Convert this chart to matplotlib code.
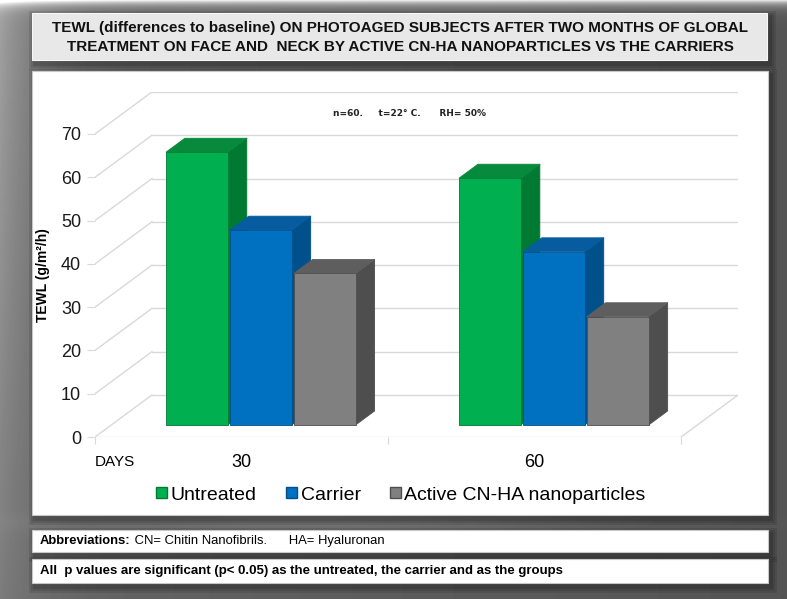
"""
TEWL bar chart (pseudo-3D columns) on a slide-style panel
"""

import matplotlib.pyplot as plt
from matplotlib.patches import Polygon, Rectangle
import numpy as np

# data
days = ['30', '60']
series = ['Untreated', 'Carrier', 'Active CN-HA nanoparticles']
untreated = [63, 57]
carrier = [45, 40]
active = [35, 25]
y_ticks = [0, 10, 20, 30, 40, 50, 60, 70]

front_colors = ['#00b050', '#0070c0', '#808080']
side_colors = ['#007a32', '#00508c', '#4e4e4e']
top_colors = ['#088a3c', '#065c9e', '#5e5e5e']

W, H = 787, 599
fig = plt.figure(figsize=(W / 100, H / 100), dpi=100)

# slide background, pixel coordinates
bg = fig.add_axes([0, 0, 1, 1])
bg.set_xlim(0, W)
bg.set_ylim(H, 0)
bg.axis('off')

yy, xx = np.mgrid[0:H, 0:W]
shade = 0.33 + 0.24 * np.exp(-xx / 45.0) * (1 - 0.6 * yy / H) + 0.06 * (1 - xx / W)
shade += 0.08 * np.exp(-((yy - 522) / 10.0) ** 2) * np.exp(-((xx - 330) / 250.0) ** 2)
shade += 0.55 * np.exp(-yy / 5.0)
shade = np.clip(shade, 0, 1)
bg.imshow(shade, cmap='gray', vmin=0, vmax=1, extent=(0, W, H, 0), aspect='auto', zorder=0)


def panel(x0, y0, x1, y1, face, edge='#c8c8c8'):
    # soft shadow then the box itself
    for k, a in enumerate([0.10, 0.10, 0.12]):
        pad = 6 - 2 * k
        bg.add_patch(Rectangle((x0 - pad + 3, y0 - pad + 4), x1 - x0 + 2 * pad, y1 - y0 + 2 * pad,
                               facecolor='black', edgecolor='none', alpha=a, zorder=1))
    bg.add_patch(Rectangle((x0, y0), x1 - x0, y1 - y0, facecolor=face, edgecolor=edge,
                           linewidth=0.8, zorder=2))


panel(32, 13, 767, 60, '#e8e8e8', '#f7f7f7')
panel(32, 71, 768, 515, 'white')
panel(32, 530, 768, 552, 'white')
panel(32, 559, 768, 583, 'white')

font = 'Liberation Sans'
bg.text(400, 28, 'TEWL (differences to baseline) ON PHOTOAGED SUBJECTS AFTER TWO MONTHS OF GLOBAL',
        ha='center', va='center', fontsize=11, fontweight='bold', family=font, color='#111111', zorder=3)
bg.text(400, 47, 'TREATMENT ON FACE AND  NECK BY ACTIVE CN-HA NANOPARTICLES VS THE CARRIERS',
        ha='center', va='center', fontsize=11, fontweight='bold', family=font, color='#111111', zorder=3)

abbr = bg.text(40, 541, 'Abbreviations:', ha='left', va='center', fontsize=9.4, fontweight='bold',
               family=font, zorder=3)
bg.annotate(' CN= Chitin Nanofibrils.      HA= Hyaluronan', xy=(1, 0.5), xycoords=abbr,
            ha='left', va='center', fontsize=9.4, family=font, zorder=3)
bg.text(40, 571, 'All  p values are significant (p< 0.05) as the untreated, the carrier and as the groups',
        ha='left', va='center', fontsize=9.5, fontweight='bold', family=font, zorder=3)

bg.text(42.5, 275, 'TEWL (g/m²/h)', rotation=90, ha='center', va='center', fontsize=10,
        fontweight='bold', family=font, zorder=3)
bg.text(333, 113, 'n=60.     t=22° C.      RH= 50%', ha='left', va='center', fontsize=6.5,
        fontweight='bold', family='DejaVu Sans', color='#222222', zorder=3)

# chart axes: front plane in data units, depth as an oblique offset
DX = 57 / 293.5          # depth shift in category units
DY = 42 / 4.329          # depth shift in value units
x_left, x_right, y_zero, y_top = 95, 738, 437, 92
ax = fig.add_axes([x_left / W, (H - y_zero) / H, (x_right - x_left) / W, (y_zero - y_top) / H])
ax.set_xlim(0, 2 + DX)
ax.set_ylim(0, 70 + DY)
ax.patch.set_alpha(0)
for s in ax.spines.values():
    s.set_visible(False)

grid = '#d9d9d9'
for v in y_ticks:
    ax.plot([DX, 2 + DX], [v + DY, v + DY], color=grid, lw=1, zorder=1)
    ax.plot([0, DX], [v, v + DY], color=grid, lw=1, zorder=1)
ax.plot([0, 2], [0, 0], color=grid, lw=1, zorder=1)
ax.plot([2, 2 + DX], [0, DY], color=grid, lw=1, zorder=1)

ax.set_yticks(y_ticks)
ax.set_yticklabels([str(v) for v in y_ticks], fontsize=13, family=font, color='#1a1a1a')
ax.tick_params(axis='y', length=6, color=grid, pad=4)
ax.set_xticks([0, 1, 2])
ax.set_xticklabels([])
ax.tick_params(axis='x', length=5, color=grid)

for i, d in enumerate(days):
    ax.text(i + 0.5, -5.8, d, ha='center', va='center', fontsize=13, family=font, clip_on=False)
ax.text(0, -5.8, 'DAYS', ha='left', va='center', fontsize=11, family=font, clip_on=False)

# columns
bw, gap = 62 / 293.5, 2 / 293.5
f0, f1 = 0.29, 0.62
ddx, ddy = (f1 - f0) * DX, (f1 - f0) * DY
values = [untreated, carrier, active]
for i in range(len(days)):
    start = i + 0.51 - (3 * bw + 2 * gap) / 2
    for j, vals in enumerate(values):
        v = vals[i]
        x0 = start + j * (bw + gap) + f0 * DX
        x1 = x0 + bw
        y0 = f0 * DY
        y1 = y0 + v
        side = Polygon([(x1, y0), (x1 + ddx, y0 + ddy), (x1 + ddx, y1 + ddy), (x1, y1)],
                       closed=True, facecolor=side_colors[j], edgecolor=side_colors[j],
                       lw=0.6, joinstyle='round', zorder=3)
        top = Polygon([(x0, y1), (x1, y1), (x1 + ddx, y1 + ddy), (x0 + ddx, y1 + ddy)],
                      closed=True, facecolor=top_colors[j], edgecolor=top_colors[j],
                      lw=0.6, joinstyle='round', zorder=3)
        front = Rectangle((x0, y0), bw, v, facecolor=front_colors[j], edgecolor=side_colors[j],
                          lw=0.6, joinstyle='round', zorder=4)
        for p in (side, top, front):
            ax.add_patch(p)

handles = [Rectangle((0, 0), 1, 1, facecolor=front_colors[j], edgecolor=side_colors[j], lw=1)
           for j in range(len(series))]
fig.legend(handles, series, loc='center', bbox_to_anchor=(401 / W, 1 - 495 / H), ncol=3,
           frameon=False, handlelength=0.55, handleheight=0.55, handletextpad=0.2,
           columnspacing=1.5, prop={'family': font, 'size': 14})

fig.savefig('out.png', dpi=100)
plt.close(fig)
